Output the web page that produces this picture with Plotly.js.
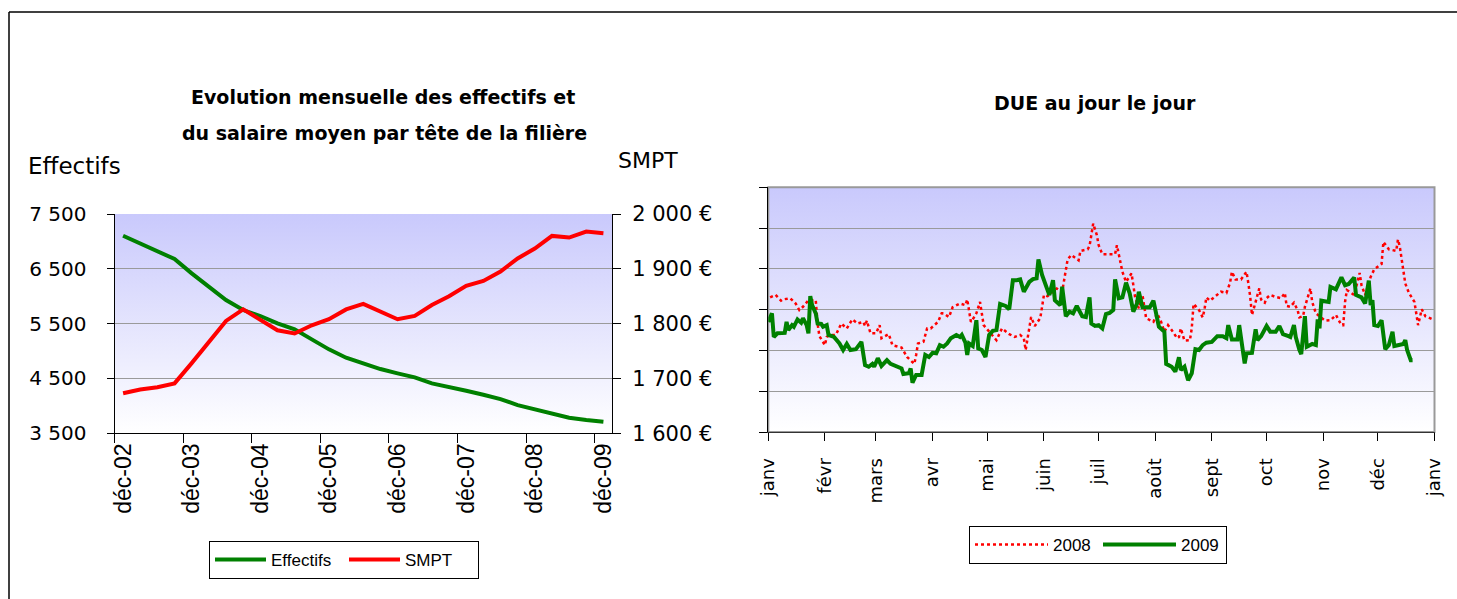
<!DOCTYPE html>
<html><head><meta charset="utf-8">
<script src="https://cdn.plot.ly/plotly-3.0.1.min.js"></script>
<style>html,body{margin:0;padding:0;background:#fff;overflow:hidden}#chart{width:1457px;height:599px}</style>
</head><body><div id="chart"></div>
<script>
// ---------- Left chart data (quarterly) ----------
const categories = ['déc-02','mars-03','juin-03','sept-03','déc-03','mars-04','juin-04','sept-04','déc-04','mars-05','juin-05','sept-05','déc-05','mars-06','juin-06','sept-06','déc-06','mars-07','juin-07','sept-07','déc-07','mars-08','juin-08','sept-08','déc-08','mars-09','juin-09','sept-09','déc-09'];
const effectifs = [7104,6965,6812,6679,6418,6173,5931,5748,5639,5505,5396,5213,5031,4878,4775,4672,4593,4520,4410,4349,4276,4203,4124,4015,3936,3850,3783,3741,3710];
const smpt = [1673,1680,1684,1691,1728,1767,1805,1826,1808,1788,1782,1797,1808,1826,1836,1822,1808,1814,1834,1850,1869,1878,1895,1919,1937,1960,1957,1968,1965];
const effTickVals = [3500,4500,5500,6500,7500];
const effTickText = ['3 500','4 500','5 500','6 500','7 500'];
const smptTickVals = [1600,1700,1800,1900,2000];
const smptTickText = ['1 600 €','1 700 €','1 800 €','1 900 €','2 000 €'];

// ---------- Right chart data (day of year) ----------
const days2009 = [0,2,3,5,9,10,11,13,14,16,18,19,21,22,23,24,26,27,29,30,32,33,36,39,41,43,45,48,51,53,55,57,58,60,62,63,65,67,70,73,74,77,78,79,81,84,86,88,90,92,94,96,98,100,103,105,106,108,109,110,112,114,115,117,119,121,123,125,127,130,132,134,136,138,140,143,145,147,148,150,153,154,156,157,160,161,163,165,167,169,172,174,176,177,179,181,183,185,187,189,190,192,194,196,198,200,202,203,205,207,209,211,212,214,217,218,221,223,225,226,228,230,232,234,236,238,240,243,246,249,251,252,254,257,258,260,261,262,265,267,268,270,273,275,278,280,282,285,286,288,289,291,292,294,295,298,300,301,302,303,307,308,311,314,316,318,321,322,325,327,329,330,331,332,334,336,338,340,342,343,346,348,349,350,352,353];
const due2009 = [270,291,233,242,243,270,250,262,258,276,268,279,262,242,333,311,291,266,265,258,262,238,233,217,201,216,201,203,221,164,160,167,160,181,162,167,176,167,162,156,142,144,156,121,140,140,189,184,194,193,213,209,217,230,238,233,238,219,189,217,211,274,205,201,184,238,248,250,314,309,301,372,372,374,344,368,375,377,423,385,348,336,372,323,311,356,284,295,291,309,284,282,330,266,260,262,254,289,292,299,374,328,330,366,340,295,315,344,306,307,306,322,299,258,246,167,160,148,183,152,160,127,144,203,201,213,219,221,235,235,230,262,227,227,262,209,168,193,194,252,225,235,260,246,246,260,240,235,233,262,233,201,191,284,209,216,213,276,254,322,319,356,350,379,360,363,379,336,330,315,371,311,323,262,260,274,203,213,246,211,213,216,225,201,176,176];
const days2008 = [1,4,7,8,12,15,17,19,22,26,27,28,31,32,34,37,40,43,46,49,52,53,54,56,59,61,62,66,68,73,76,80,81,82,85,87,89,93,95,96,99,101,105,108,109,110,111,112,114,116,117,118,125,126,128,132,135,138,140,141,142,143,144,146,149,150,151,153,155,158,161,162,163,164,166,170,171,175,176,177,178,180,181,183,190,191,193,194,196,199,200,201,203,205,207,211,213,215,217,219,221,224,225,226,228,231,232,233,236,238,239,240,242,246,248,251,253,254,256,259,262,263,264,265,266,267,268,269,270,271,272,273,275,278,281,283,284,286,288,290,291,293,294,296,297,298,300,305,308,311,314,315,316,317,321,324,325,327,330,332,336,337,340,344,345,346,347,348,349,351,354,355,356,357,358,360,364];
const due2008 = [330,336,322,325,328,315,299,307,323,323,266,235,213,233,238,238,266,254,276,266,270,260,273,242,242,262,230,240,213,207,184,167,189,217,221,254,254,270,291,291,282,306,315,311,325,295,270,276,291,319,291,262,225,235,254,240,233,238,230,201,230,257,282,260,279,307,336,333,340,352,344,368,397,423,434,421,444,448,456,483,511,483,458,436,436,458,417,393,368,389,360,330,303,336,279,270,291,273,246,262,250,230,233,254,224,225,254,314,299,281,301,330,322,336,344,341,366,393,374,374,393,365,333,287,306,319,336,352,325,319,317,328,336,331,328,341,309,307,317,299,281,284,307,340,352,319,291,273,274,287,262,262,319,348,336,390,360,336,380,399,412,466,448,444,472,454,423,393,364,341,319,291,262,281,301,284,276];
const monthDays = [0,31,59,90,120,151,181,212,243,273,304,334,365];
const monthLabels = ['janv','févr','mars','avr','mai','juin','juil','août','sept','oct','nov','déc','janv'];
const dueGridVals = [0,100,200,300,400,500,600];

// ---------- geometry helpers ----------
const W = 1457, H = 599;
const fx = x => x / W, fy = y => 1 - y / H;
const comic = "'Comic Sans MS', 'DejaVu Sans', sans-serif";
const arial = "'Liberation Sans', Arial, sans-serif";
const L = {x0: 114.5, x1: 612, y0: 214, y1: 433.3};
const R = {x0: 768.3, x1: 1434.5, y0: 187.3, y1: 432};

function gradientURI() {
  const svg = '<svg xmlns="http://www.w3.org/2000/svg" width="10" height="100" viewBox="0 0 10 100" preserveAspectRatio="none"><defs><linearGradient id="g" x1="0" y1="0" x2="0" y2="1"><stop offset="0" stop-color="#c9c9fc"/><stop offset="1" stop-color="#ffffff"/></linearGradient></defs><rect width="10" height="100" fill="url(#g)"/></svg>';
  return 'data:image/svg+xml;charset=utf-8,' + encodeURIComponent(svg);
}
const GREEN = '#008000', RED = '#ff0000';

const traces = [
  {x: categories, y: effectifs, name: 'Effectifs', type: 'scatter', mode: 'lines', xaxis: 'x', yaxis: 'y', line: {color: GREEN, width: 4}, legend: 'legend'},
  {x: categories, y: smpt, name: 'SMPT', type: 'scatter', mode: 'lines', xaxis: 'x', yaxis: 'y2', line: {color: RED, width: 4}, legend: 'legend'},
  {x: days2008, y: due2008, name: '2008', type: 'scatter', mode: 'lines', xaxis: 'x2', yaxis: 'y3', line: {color: RED, width: 2.5, dash: 'dot'}, legend: 'legend2'},
  {x: days2009, y: due2009, name: '2009', type: 'scatter', mode: 'lines', xaxis: 'x2', yaxis: 'y3', line: {color: GREEN, width: 4}, legend: 'legend2'}
];

const layout = {
  width: W, height: H,
  margin: {l: 0, r: 0, t: 0, b: 0},
  paper_bgcolor: '#ffffff', plot_bgcolor: 'rgba(0,0,0,0)',
  showlegend: true,
  xaxis: {domain: [fx(L.x0), fx(L.x1)], anchor: 'y', type: 'category', range: [-0.5, 28.5],
    tickmode: 'linear', tick0: 0, dtick: 4, tickson: 'boundaries', ticks: 'outside', ticklen: 9, tickcolor: '#000',
    showline: true, linecolor: '#000', linewidth: 1, showgrid: false, zeroline: false, tickangle: -90,
    tickfont: {family: arial, size: 23, color: '#000'}},
  yaxis: {domain: [fy(L.y1), fy(L.y0)], anchor: 'x', range: [3500, 7500], tickmode: 'array',
    tickvals: effTickVals, ticktext: effTickText, ticks: 'outside', ticklen: 7, tickcolor: '#000',
    showline: true, linecolor: '#000', gridcolor: '#9a9a9a', gridwidth: 1, zeroline: false,
    ticklabelstandoff: 16, tickfont: {family: comic, size: 20, color: '#000'}},
  yaxis2: {overlaying: 'y', side: 'right', anchor: 'x', range: [1600, 2000], tickmode: 'array',
    tickvals: smptTickVals, ticktext: smptTickText, ticks: 'outside', ticklen: 8, tickcolor: '#000',
    showline: true, linecolor: '#000', showgrid: false, zeroline: false, ticklabelstandoff: 7,
    tickfont: {family: comic, size: 21, color: '#000'}},
  xaxis2: {domain: [fx(R.x0), fx(R.x1)], anchor: 'y3', range: [0, 365], tickmode: 'array',
    tickvals: monthDays, ticktext: monthLabels, ticks: 'outside', ticklen: 8, tickcolor: '#000',
    showline: true, linecolor: '#333', showgrid: false, zeroline: false, tickangle: -90,
    ticklabelstandoff: 10, tickfont: {family: comic, size: 18, color: '#000'}},
  yaxis3: {domain: [fy(R.y1), fy(R.y0)], anchor: 'x2', range: [0, 600], tickmode: 'array',
    tickvals: dueGridVals, showticklabels: false, ticks: 'outside', ticklen: 8, tickcolor: '#000',
    showline: true, linecolor: '#000', gridcolor: '#9a9a9a', gridwidth: 1, zeroline: false},
  legend: {x: fx(209), y: fy(541), xanchor: 'left', yanchor: 'top', orientation: 'h',
    itemwidth: 51, entrywidth: 68, entrywidthmode: 'pixels',
    bgcolor: '#fff', bordercolor: '#000', borderwidth: 1, font: {family: arial, size: 17, color: '#000'}},
  legend2: {x: fx(969), y: fy(526), xanchor: 'left', yanchor: 'top', orientation: 'h',
    itemwidth: 73, entrywidth: 40, entrywidthmode: 'pixels',
    bgcolor: '#fff', bordercolor: '#000', borderwidth: 1, font: {family: arial, size: 17, color: '#000'}},
  images: [
    {source: gradientURI(), xref: 'paper', yref: 'paper', x: fx(L.x0), y: fy(L.y0), sizex: fx(L.x1) - fx(L.x0), sizey: fy(L.y0) - fy(L.y1), sizing: 'stretch', layer: 'below', xanchor: 'left', yanchor: 'top'},
    {source: gradientURI(), xref: 'paper', yref: 'paper', x: fx(R.x0), y: fy(R.y0), sizex: fx(R.x1) - fx(R.x0), sizey: fy(R.y0) - fy(R.y1), sizing: 'stretch', layer: 'below', xanchor: 'left', yanchor: 'top'}
  ],
  shapes: [
    {type: 'rect', xref: 'paper', yref: 'paper', x0: fx(R.x0), x1: fx(R.x1), y0: fy(R.y1), y1: fy(R.y0), line: {color: '#999', width: 2}, layer: 'below'},
    {type: 'line', xref: 'paper', yref: 'paper', x0: fx(9), x1: 1, y0: fy(12), y1: fy(12), line: {color: '#000', width: 1.5}},
    {type: 'line', xref: 'paper', yref: 'paper', x0: fx(9), x1: fx(9), y0: fy(12), y1: 0, line: {color: '#000', width: 1.5}}
  ],
  annotations: [
    {text: '<b>Evolution mensuelle des effectifs et</b>', xref: 'paper', yref: 'paper', x: fx(383), y: fy(97), showarrow: false, xanchor: 'center', yanchor: 'middle', font: {family: comic, size: 19, color: '#000'}},
    {text: '<b>du salaire moyen par tête de la filière</b>', xref: 'paper', yref: 'paper', x: fx(384), y: fy(133), showarrow: false, xanchor: 'center', yanchor: 'middle', font: {family: comic, size: 19, color: '#000'}},
    {text: 'Effectifs', xref: 'paper', yref: 'paper', x: fx(26), y: fy(166), showarrow: false, xanchor: 'left', yanchor: 'middle', font: {family: comic, size: 23, color: '#000'}},
    {text: 'SMPT', xref: 'paper', yref: 'paper', x: fx(616), y: fy(160), showarrow: false, xanchor: 'left', yanchor: 'middle', font: {family: comic, size: 22, color: '#000'}},
    {text: '<b>DUE au jour le jour</b>', xref: 'paper', yref: 'paper', x: fx(1095), y: fy(103), showarrow: false, xanchor: 'center', yanchor: 'middle', font: {family: comic, size: 19, color: '#000'}}
  ]
};

Plotly.newPlot('chart', traces, layout, {displayModeBar: false, staticPlot: true});
</script>
</body></html>
